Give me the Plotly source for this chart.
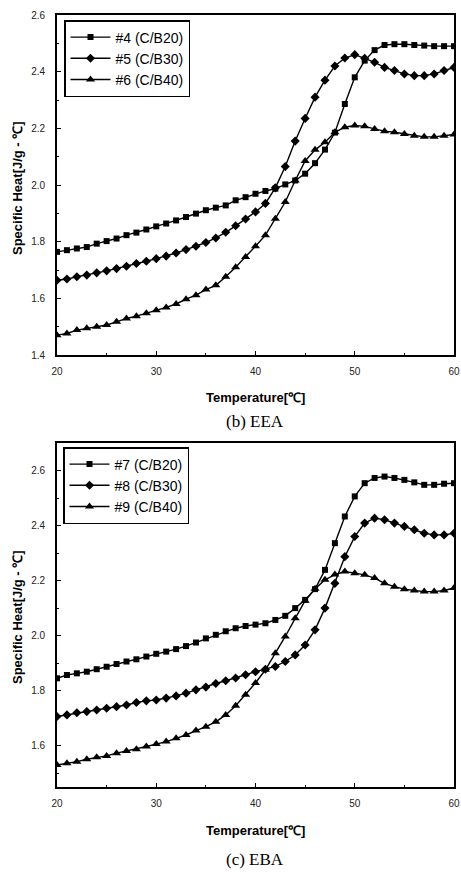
import plotly.graph_objects as go

# Temperature grid (°C)
temperature = list(range(20, 61))

# (b) EEA specific heat, J/g·°C
eea_c4 = [1.764, 1.770, 1.776, 1.781, 1.793, 1.802, 1.811, 1.823, 1.832, 1.843,
          1.854, 1.864, 1.875, 1.887, 1.899, 1.911, 1.920, 1.928, 1.946, 1.957,
          1.969, 1.979, 1.987, 2.002, 2.016, 2.040, 2.077, 2.125, 2.185, 2.286,
          2.380, 2.439, 2.476, 2.494, 2.497, 2.497, 2.494, 2.492, 2.490, 2.490, 2.490]
eea_c5 = [1.664, 1.668, 1.676, 1.682, 1.690, 1.697, 1.705, 1.713, 1.723, 1.731,
          1.740, 1.749, 1.760, 1.772, 1.784, 1.797, 1.813, 1.833, 1.856, 1.880,
          1.905, 1.935, 1.990, 2.065, 2.155, 2.235, 2.310, 2.370, 2.420, 2.448,
          2.460, 2.447, 2.433, 2.415, 2.404, 2.392, 2.386, 2.386, 2.392, 2.404, 2.415]
eea_c6 = [1.470, 1.476, 1.488, 1.494, 1.500, 1.506, 1.517, 1.529, 1.537, 1.547,
          1.558, 1.568, 1.580, 1.597, 1.611, 1.631, 1.646, 1.676, 1.710, 1.746,
          1.784, 1.823, 1.881, 1.940, 2.016, 2.085, 2.124, 2.151, 2.186, 2.204,
          2.210, 2.207, 2.198, 2.190, 2.186, 2.180, 2.174, 2.170, 2.170, 2.174, 2.178]

# (c) EBA specific heat, J/g·°C
eba_c7 = [1.845, 1.857, 1.863, 1.869, 1.878, 1.887, 1.897, 1.906, 1.914, 1.924,
          1.934, 1.942, 1.951, 1.962, 1.975, 1.990, 2.003, 2.016, 2.027, 2.035,
          2.040, 2.045, 2.057, 2.072, 2.100, 2.130, 2.169, 2.239, 2.336, 2.433,
          2.506, 2.554, 2.573, 2.578, 2.573, 2.566, 2.557, 2.548, 2.548, 2.552, 2.554]
eba_c8 = [1.706, 1.712, 1.720, 1.724, 1.730, 1.736, 1.742, 1.748, 1.757, 1.763,
          1.766, 1.773, 1.781, 1.791, 1.803, 1.813, 1.826, 1.836, 1.846, 1.858,
          1.869, 1.878, 1.888, 1.906, 1.930, 1.966, 2.021, 2.100, 2.190, 2.287,
          2.360, 2.409, 2.427, 2.421, 2.409, 2.397, 2.385, 2.372, 2.366, 2.366, 2.372]
eba_c9 = [1.530, 1.536, 1.542, 1.551, 1.558, 1.563, 1.573, 1.581, 1.587, 1.597,
          1.606, 1.615, 1.627, 1.639, 1.655, 1.669, 1.687, 1.712, 1.745, 1.785,
          1.828, 1.876, 1.936, 1.997, 2.063, 2.127, 2.170, 2.203, 2.222, 2.233,
          2.227, 2.221, 2.209, 2.190, 2.178, 2.169, 2.164, 2.160, 2.160, 2.164, 2.173]

eea_names = ["#4 (C/B20)", "#5 (C/B30)", "#6 (C/B40)"]
eba_names = ["#7 (C/B20)", "#8 (C/B30)", "#9 (C/B40)"]
symbols = ["square", "diamond", "triangle-up"]
sizes = [6, 7, 8]

W, H = 461, 874
ML, MR, MT, MB = 57, 7, 15, 87
plot_w = W - ML - MR
plot_h = H - MT - MB


def px_x(x):
    return (x - ML) / plot_w


def px_y(y):
    return (H - MB - y) / plot_h


fig = go.Figure()

for ys, name, sym, sz in zip([eea_c4, eea_c5, eea_c6], eea_names, symbols, sizes):
    fig.add_trace(go.Scatter(
        x=temperature, y=ys, name=name, mode="lines+markers",
        line=dict(color="black", width=1.4),
        marker=dict(symbol=sym, size=sz, color="black"),
        xaxis="x", yaxis="y", legend="legend"))

for ys, name, sym, sz in zip([eba_c7, eba_c8, eba_c9], eba_names, symbols, sizes):
    fig.add_trace(go.Scatter(
        x=temperature, y=ys, name=name, mode="lines+markers",
        line=dict(color="black", width=1.4),
        marker=dict(symbol=sym, size=sz, color="black"),
        xaxis="x2", yaxis="y2", legend="legend2"))

tick_font = dict(family="Liberation Sans", size=10, color="#222")
axis_common = dict(
    showline=True, linecolor="black", linewidth=1.6, mirror=True,
    ticks="inside", ticklen=4, tickcolor="black", tickwidth=1,
    showgrid=False, zeroline=False, tickfont=tick_font,
    ticklabeloverflow="allow", automargin=False,
)

fig.update_layout(
    width=W, height=H,
    margin=dict(l=ML, r=MR, t=MT, b=MB),
    paper_bgcolor="white", plot_bgcolor="white",
    font=dict(family="Liberation Sans", color="black"),
    xaxis=dict(domain=[0, 1], range=[20, 60], dtick=10, anchor="y",
               minor=dict(ticks="inside", ticklen=2, dtick=5, tickcolor="black"),
               ticklabelstandoff=6, **axis_common),
    yaxis=dict(domain=[px_y(355), px_y(15)], range=[1.4, 2.6], dtick=0.2,
               tickformat=".1f", anchor="x",
               minor=dict(ticks="inside", ticklen=2, dtick=0.1, tickcolor="black"),
               ticklabelstandoff=8, **axis_common),
    xaxis2=dict(domain=[0, 1], range=[20, 60], dtick=10, anchor="y2",
                minor=dict(ticks="inside", ticklen=2, dtick=5, tickcolor="black"),
                ticklabelstandoff=6, **axis_common),
    yaxis2=dict(domain=[0, px_y(443)], range=[1.45, 2.70], dtick=0.2,
                tick0=1.6, tickformat=".1f", anchor="x2",
                minor=dict(ticks="inside", ticklen=2, dtick=0.1, tickcolor="black"),
                ticklabelstandoff=8, **axis_common),
    legend=dict(x=px_x(64), y=px_y(20), xanchor="left", yanchor="top",
                bordercolor="black", borderwidth=1.5, bgcolor="white",
                font=dict(family="Liberation Sans", size=14),
                itemwidth=40, tracegroupgap=0),
    legend2=dict(x=px_x(63), y=px_y(447), xanchor="left", yanchor="top",
                 bordercolor="black", borderwidth=1.5, bgcolor="white",
                 font=dict(family="Liberation Sans", size=14),
                 itemwidth=40, tracegroupgap=0),
)

title_font = dict(family="Liberation Sans", size=13, color="black")
caption_font = dict(family="Liberation Serif", size=17, color="black")

annotations = [
    dict(text="<b>Temperature[℃]</b>", x=px_x(255), y=px_y(397), font=title_font),
    dict(text="<b>Temperature[℃]</b>", x=px_x(255), y=px_y(830), font=title_font),
    dict(text="(b) EEA", x=px_x(255), y=px_y(421), font=caption_font),
    dict(text="(c) EBA", x=px_x(255), y=px_y(860), font=caption_font),
    dict(text="<b>Specific Heat[J/g - ℃]</b>", x=px_x(17), y=px_y(188),
         textangle=-90, font=title_font),
    dict(text="<b>Specific Heat[J/g - ℃]</b>", x=px_x(17), y=px_y(617),
         textangle=-90, font=title_font),
]
for a in annotations:
    fig.add_annotation(xref="paper", yref="paper", showarrow=False,
                       xanchor="center", yanchor="middle", **a)

fig.write_html("out.html")
